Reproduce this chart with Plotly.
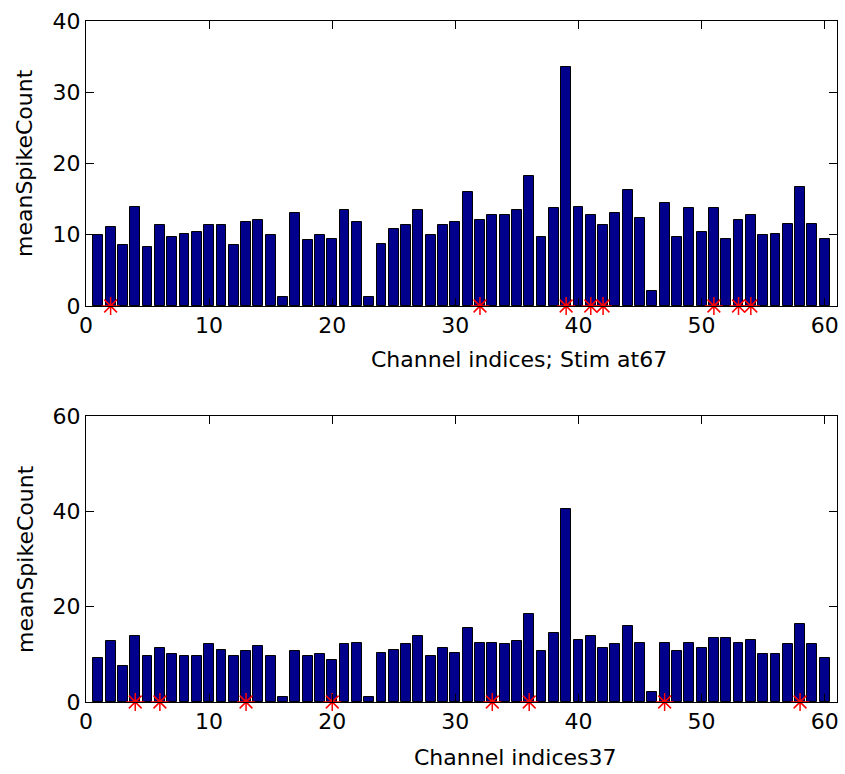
import plotly.graph_objects as go

channels = list(range(1, 61))

top_values = [9.9, 11.1, 8.5, 13.9, 8.3, 11.3, 9.7, 10.1, 10.4, 11.3,
              11.3, 8.5, 11.8, 12.1, 9.9, 1.2, 13.0, 9.3, 9.9, 9.4,
              13.5, 11.8, 1.2, 8.7, 10.8, 11.3, 13.5, 9.9, 11.3, 11.8,
              16.0, 12.1, 12.8, 12.8, 13.5, 18.2, 9.7, 13.7, 33.6, 13.9,
              12.8, 11.3, 13.0, 16.3, 12.3, 2.1, 14.5, 9.7, 13.7, 10.4,
              13.7, 9.4, 12.1, 12.8, 9.9, 10.1, 11.5, 16.7, 11.5, 9.4]
top_stars = [2, 32, 39, 41, 42, 51, 53, 54]

bottom_values = [9.3, 12.8, 7.5, 13.8, 9.6, 11.4, 10.0, 9.6, 9.6, 12.1,
                 11.0, 9.6, 10.7, 11.7, 9.6, 1.0, 10.7, 9.6, 10.0, 8.9,
                 12.1, 12.4, 1.0, 10.3, 11.0, 12.1, 13.8, 9.6, 11.4, 10.3,
                 15.6, 12.4, 12.4, 12.1, 12.8, 18.4, 10.7, 14.5, 40.5, 13.1,
                 13.8, 11.4, 12.1, 15.9, 12.4, 2.1, 12.4, 10.7, 12.4, 11.4,
                 13.5, 13.5, 12.4, 13.1, 10.0, 10.0, 12.1, 16.3, 12.1, 9.3]
bottom_stars = [4, 6, 13, 20, 33, 36, 47, 58]

top_xlabel = "Channel indices; Stim at67"
bottom_xlabel = "Channel indices37"
ylabel = "meanSpikeCount"
x_ticks = [0, 10, 20, 30, 40, 50, 60]
top_y_ticks = [0, 10, 20, 30, 40]
bottom_y_ticks = [0, 20, 40, 60]

W, H = 845, 774
FONT = "DejaVu Sans"
BAR_COLOR = "#00008C"

fig = go.Figure()

star_marker = dict(symbol="asterisk-open", size=15, color="red",
                   line=dict(color="red", width=1.5))

fig.add_trace(go.Bar(x=channels, y=top_values, width=0.8,
                     marker=dict(color=BAR_COLOR, line=dict(color="black", width=1)),
                     xaxis="x", yaxis="y", showlegend=False))
fig.add_trace(go.Scatter(x=top_stars, y=[0] * len(top_stars), mode="markers",
                         marker=star_marker,
                         cliponaxis=False, xaxis="x", yaxis="y", showlegend=False))
fig.add_trace(go.Bar(x=channels, y=bottom_values, width=0.8,
                     marker=dict(color=BAR_COLOR, line=dict(color="black", width=1)),
                     xaxis="x2", yaxis="y2", showlegend=False))
fig.add_trace(go.Scatter(x=bottom_stars, y=[0] * len(bottom_stars), mode="markers",
                         marker=star_marker,
                         cliponaxis=False, xaxis="x2", yaxis="y2", showlegend=False))

xdom = [86 / W, 837 / W]
top_dom = [1 - 306 / H, 1 - 21 / H]
bot_dom = [1 - 702 / H, 1 - 416 / H]

axis_common = dict(showline=True, linecolor="black", linewidth=1, mirror="ticks",
                   ticks="inside", ticklen=8, tickcolor="black", tickwidth=1,
                   showgrid=False, zeroline=False, automargin=False,
                   tickfont=dict(family=FONT, size=22, color="black"))

fig.update_layout(
    width=W, height=H,
    margin=dict(l=0, r=0, t=0, b=0),
    paper_bgcolor="white", plot_bgcolor="white",
    bargap=0,
    font=dict(family=FONT, color="black"),
    xaxis=dict(domain=xdom, range=[0, 61], tickvals=x_ticks, anchor="y", **axis_common),
    yaxis=dict(domain=top_dom, range=[0, 40], tickvals=top_y_ticks, anchor="x", **axis_common),
    xaxis2=dict(domain=xdom, range=[0, 61], tickvals=x_ticks, anchor="y2", **axis_common),
    yaxis2=dict(domain=bot_dom, range=[0, 60], tickvals=bottom_y_ticks, anchor="x2", **axis_common),
)

annotations = [
    dict(text=top_xlabel, x=519 / W, y=1 - 360 / H),
    dict(text=bottom_xlabel, x=515 / W, y=1 - 757 / H),
    dict(text=ylabel, x=25 / W, y=1 - 163 / H, textangle=-90),
    dict(text=ylabel, x=25 / W, y=1 - 559 / H, textangle=-90),
]
for a in annotations:
    fig.add_annotation(xref="paper", yref="paper", showarrow=False,
                       xanchor="center", yanchor="middle",
                       font=dict(family=FONT, size=22, color="black"), **a)

fig.write_html("out.html")
